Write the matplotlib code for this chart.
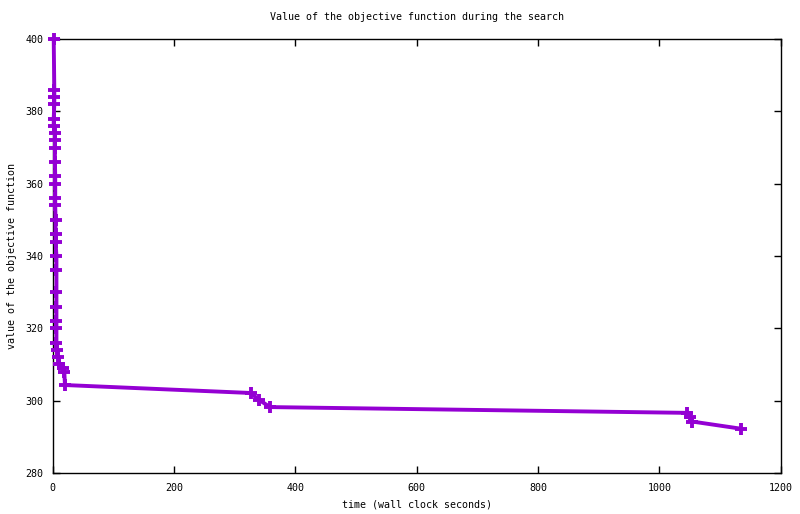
import matplotlib
matplotlib.use('Agg')
import matplotlib.pyplot as plt

# search trace: wall clock time vs objective value
time_s = [1.5, 2.5, 2.5, 2.5, 1.5, 1.5, 3.5, 3.5, 3.5, 3.5, 4, 4, 4, 4, 4.5,
          4.5, 4.5, 6, 6, 6, 6, 6, 6, 6, 6.5, 9, 10, 16, 19, 20,
          326, 340, 358, 1046, 1050, 1054, 1135]
objective = [400, 386, 384, 382, 378, 376, 374, 372, 370, 366, 362, 360, 356, 354, 350,
             346, 344, 340, 336, 330, 326, 322, 320, 316, 314, 312, 310, 309, 308, 304.3,
             302.1, 300.2, 298.2, 296.6, 295.4, 294.2, 292.2]

xticks = [0, 200, 400, 600, 800, 1000, 1200]
yticks = [280, 300, 320, 340, 360, 380, 400]

plt.rcParams['font.family'] = 'DejaVu Sans Mono'
plt.rcParams['font.size'] = 7.2

fig = plt.figure(figsize=(8, 5.14), dpi=100)
ax = fig.add_axes([0.066, 0.080, 0.910, 0.844])

ax.plot(time_s, objective, color='#9400d3', linewidth=2.8, marker='+',
        markersize=9, markeredgewidth=2.8, solid_joinstyle='miter',
        clip_on=False, zorder=5)

ax.set_xlim(0, 1200)
ax.set_ylim(280, 400)
ax.set_xticks(xticks)
ax.set_yticks(yticks)
ax.tick_params(direction='in', top=True, right=True, length=5, width=1, pad=7)
for s in ax.spines.values():
    s.set_linewidth(1)

ax.set_xlabel('time (wall clock seconds)', labelpad=5)
ax.set_ylabel('value of the objective function', labelpad=6)
ax.set_title('Value of the objective function during the search', fontsize=7.2, pad=14)

fig.savefig('out.png', dpi=100)
